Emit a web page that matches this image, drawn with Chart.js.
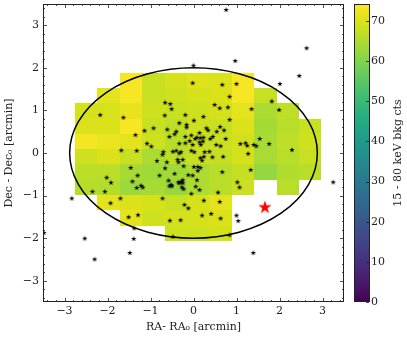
<!DOCTYPE html>
<html>
<head>
<meta charset="utf-8">
<script src="https://cdn.jsdelivr.net/npm/chart.js@4.4.1/dist/chart.umd.min.js"></script>
<style>
    html, body { margin: 0; padding: 0; background: #fff; }
    #chart { display: block; }
</style>
</head>
<body>
<canvas id="chart" width="407" height="340"></canvas>
<script>
;(function () {
    'use strict';

    // background map, bin centres in arcmin (rows top -> bottom), null = no coverage
    var binRA  = [-2.497, -1.976, -1.455, -0.934, -0.413, 0.109, 0.630, 1.151, 1.672, 2.193, 2.714];
    var binDec = [1.71, 1.35, 0.99, 0.63, 0.27, -0.09, -0.45, -0.81, -1.17, -1.53, -1.89];
    var bkgCounts = [
        [null, null, 73.5, 67.7, 69.2, 70.5, 69.8, 73.5, null, null, null],
        [null, 71.0, 73.5, 67.7, 68.5, 69.2, 70.0, 73.5, 67.7, null, null],
        [69.2, 69.5, 71.5, 68.5, 67.7, 68.5, 69.2, 71.0, 64.8, 66.8, null],
        [70.0, 70.0, 73.5, 67.7, 66.8, 68.5, 67.7, 70.0, 64.0, 66.2, 67.7],
        [73.0, 72.0, 71.0, 68.5, 66.2, 67.7, 68.0, 69.0, 64.4, 66.8, 68.5],
        [68.5, 70.0, 67.7, 64.5, 66.5, 67.7, 67.5, 69.2, 64.4, 66.2, 67.7],
        [66.5, 66.5, 64.2, 63.5, 63.6, 64.8, 66.2, 67.5, 62.2, 65.3, 66.2],
        [66.0, 65.5, 62.9, 64.2, 62.5, 64.8, 66.2, 68.0, null, 66.2, null],
        [null, 71.0, 70.0, 69.2, 67.7, 69.2, 71.0, null, null, null, null],
        [null, null, 71.0, 68.5, 69.2, 69.2, 70.0, null, null, null, null],
        [null, null, null, null, 68.5, 68.5, 69.2, null, null, null, null]
    ];

    // cluster members (offsets from centre, arcmin)
    var memberRA = [
        -2.17, -1.63, -1.35, -1.14, -0.93, -1.08, -0.98, -1.68, -1.32, -0.02,
         0.67,  1.00,  0.84, -0.66, -0.54, -0.51,  0.49,  0.61,  0.80, -0.67,
        -0.19,  0.23,  0.01, -0.33, -0.16, -0.16,  0.84, -0.61, -0.40,  0.30,
         0.34,  0.14,  0.62,  0.71,  0.54,  0.75, -0.56, -0.44, -0.05,  0.45,
         0.08,  0.16,  0.23,  0.04,  0.39, -0.09,  0.14,  0.22, -0.33, -0.19,
        -0.02,  0.17,  0.53,  0.63,  1.09,  1.21,  1.25, -0.40, -0.29, -0.05,
         0.02,  0.26,  0.37, -0.70,  2.46,  2.01,  1.82,  1.99,  1.35,  1.54,
         1.40,  1.46,  1.76,  2.29,  0.76,  2.63,  0.97,  0.00,  1.27,  1.33,
        -0.72, -0.62, -0.85, -1.46, -0.35, -0.25, -0.23, -0.48, -0.33,  0.01,
         0.10, -1.30, -2.02, -1.92, -1.42, -1.22, -1.18, -1.32, -2.35, -2.06,
        -2.83, -1.70, -1.93, -1.29, -1.51, -1.38, -2.53, -1.39, -3.48, -2.30,
        -1.48, -0.79, -0.55, -0.30, -0.48, -0.72, -0.05, -0.12, -0.27, -0.23,
        -0.33, -0.52, -0.56, -0.44, -0.25, -0.29, -0.66, -0.12, -0.02, -0.37,
         0.16,  0.24,  0.20,  0.44,  0.69,  0.16,  0.10,  0.67, -0.58, -0.35,
        -0.25,  0.08, -0.50,  0.05,  0.14,  1.02,  1.07,  0.57,  0.24,  0.61,
        -0.21,  0.20,  0.41,  0.63,  1.00,  1.04,  0.84,  3.25,  1.39, -0.19
    ];
    var memberDec = [
         0.89,  0.83,  0.42,  0.52,  0.58,  0.22,  0.15,  0.06,  0.05,  1.64,
         1.60,  1.62,  1.32,  1.18,  1.15,  1.03,  1.13,  1.05,  1.07,  0.88,
         0.89,  0.85,  0.76,  0.70,  0.66,  0.60,  0.78,  0.55,  0.50,  0.58,
         0.53,  0.47,  0.61,  0.53,  0.50,  0.33,  0.38,  0.44,  0.41,  0.38,
         0.36,  0.35,  0.36,  0.33,  0.33,  0.28,  0.25,  0.27,  0.22,  0.23,
         0.19,  0.19,  0.19,  0.16,  0.21,  0.23,  0.17,  0.05,  0.02,  0.05,
         0.02,  0.02,  0.03,  0.02,  1.81,  1.62,  1.21,  1.01,  1.03,  0.33,
         0.19,  0.16,  0.21,  0.07,  3.36,  2.46,  2.16,  2.05, -0.02, -0.40,
        -0.04, -0.22, -0.19, -0.35, -0.22, -0.16, -0.31,  0.03, -0.01, -0.33,
        -0.33, -0.53, -0.58, -0.70, -0.67, -0.77, -0.81, -0.82, -0.91, -0.91,
        -1.07, -1.07, -1.18, -1.46, -1.51, -1.77, -2.01, -2.02, -1.88, -2.50,
        -2.35, -0.53, -1.59, -1.58, -1.97, -1.07, -0.96, -1.30, -0.81, -0.85,
        -0.71, -0.75, -0.78, -0.49, -0.64, -0.68, -0.36, -0.52, -0.53, -0.16,
        -0.12, -0.09, -0.18, -0.10, -0.09, -0.35, -0.42, -0.45, -0.65, -0.69,
        -0.71, -0.64, -0.78, -0.79, -0.87, -0.69, -0.81, -0.93, -1.12, -1.15,
        -1.22, -1.47, -1.43, -1.54, -1.47, -1.60, -1.93, -0.69, -2.35,  0.38
    ];

    // the off-centre source (red star)
    var sourceRA  = [1.66];
    var sourceDec = [-1.28];

    // field ellipse semi-axes (arcmin), centred on the origin
    var fovRA  = 2.88;
    var fovDec = 2.00;

    var axisTicks = [-3, -2, -1, 0, 1, 2, 3];
    var cbarTicks = [0, 10, 20, 30, 40, 50, 60, 70];
    var cbarMax   = 74.2;

    var binW = 0.521, binH = 0.36;
    var FONT = "'DejaVu Serif', 'Liberation Serif', serif";
    var INK = '#222';

    var VIRIDIS = [
        '#440154', '#48186a', '#472d7b', '#424086', '#3b528b', '#33638d',
        '#2c728e', '#26828e', '#21918c', '#1fa088', '#28ae80', '#3fbc73',
        '#5ec962', '#84d44b', '#addc30', '#d8e219', '#fde725'
    ];

    function hexRgb (h) {
        return [parseInt(h.substr(1, 2), 16), parseInt(h.substr(3, 2), 16), parseInt(h.substr(5, 2), 16)];
    }

    function viridis (t) {
        t = Math.max(0, Math.min(1, t));
        var f = t * (VIRIDIS.length - 1);
        var i = Math.min(Math.floor(f), VIRIDIS.length - 2);
        var k = f - i;
        var a = hexRgb(VIRIDIS[i]), b = hexRgb(VIRIDIS[i + 1]);
        return 'rgb(' + [0, 1, 2].map(function (c) {
            return Math.round(a[c] + (b[c] - a[c]) * k);
        }).join(',') + ')';
    }

    function starCanvas (r, color) {
        var size = Math.ceil(r * 2 + 2);
        var c = document.createElement('canvas');
        c.width = size; c.height = size;
        var g = c.getContext('2d');
        g.translate(size / 2, size / 2);
        g.beginPath();
        for (var i = 0; i < 10; i++) {
            var rad = (i % 2 === 0) ? r : r * 0.382;
            var ang = -Math.PI / 2 + i * Math.PI / 5;
            g.lineTo(rad * Math.cos(ang), rad * Math.sin(ang));
        }
        g.closePath();
        g.fillStyle = color;
        g.fill();
        return c;
    }

    function fmt (v) {
        return String(v).replace('-', '\u2212');
    }

    function setTicks (list) {
        return function (scale) {
            scale.ticks = list.map(function (v) { return { value: v }; });
        };
    }

    // fixed box sizes, and no extra room for the end labels
    function fixSize (w, h) {
        return function (s) {
            if (w) s.width = w;
            if (h) s.height = h;
            s.paddingTop = 0; s.paddingBottom = 0;
            s.paddingLeft = 0; s.paddingRight = 0;
        };
    }

    var mapPlugin = {
        id: 'bkgMap',
        beforeDatasetsDraw: function (chart) {
            var ctx = chart.ctx, xs = chart.scales.x, ys = chart.scales.y;
            ctx.save();
            bkgCounts.forEach(function (row, j) {
                row.forEach(function (v, i) {
                    if (v === null) return;
                    var x0 = Math.round(xs.getPixelForValue(binRA[i] - binW / 2));
                    var x1 = Math.round(xs.getPixelForValue(binRA[i] + binW / 2));
                    var y0 = Math.round(ys.getPixelForValue(binDec[j] + binH / 2));
                    var y1 = Math.round(ys.getPixelForValue(binDec[j] - binH / 2));
                    ctx.fillStyle = viridis(v / cbarMax);
                    ctx.fillRect(x0, y0, x1 - x0, y1 - y0);
                });
            });

            var cx = xs.getPixelForValue(0), cy = ys.getPixelForValue(0);
            var rx = xs.getPixelForValue(fovRA) - cx;
            var ry = cy - ys.getPixelForValue(fovDec);
            ctx.beginPath();
            ctx.ellipse(cx, cy, rx, ry, 0, 0, 2 * Math.PI);
            ctx.lineWidth = 1.5;
            ctx.strokeStyle = '#000';
            ctx.stroke();
            ctx.restore();
        },
        afterDraw: function (chart) {
            var ctx = chart.ctx, a = chart.chartArea;
            var xs = chart.scales.x, ys = chart.scales.y, cb = chart.scales.cb;
            ctx.save();
            ctx.strokeStyle = INK;

            // frame
            ctx.lineWidth = 1;
            ctx.strokeRect(Math.round(a.left) + 0.5, Math.round(a.top) + 0.5,
                Math.round(a.right - a.left) - 1, Math.round(a.bottom - a.top) - 1);

            // inward ticks on all four sides, minor every 0.2
            ctx.lineWidth = 0.8;
            ctx.beginPath();
            for (var n = -17; n <= 17; n++) {
                var v = n / 5;
                var len = (n % 5 === 0) ? 4 : 2;
                var px = Math.round(xs.getPixelForValue(v)) + 0.5;
                var py = Math.round(ys.getPixelForValue(v)) + 0.5;
                ctx.moveTo(px, a.bottom); ctx.lineTo(px, a.bottom - len);
                ctx.moveTo(px, a.top); ctx.lineTo(px, a.top + len);
                ctx.moveTo(a.left, py); ctx.lineTo(a.left + len, py);
                ctx.moveTo(a.right, py); ctx.lineTo(a.right - len, py);
            }
            ctx.stroke();

            // colour bar
            var bx = Math.round(cb.left) + 10, bw = 15;
            var top = cb.getPixelForValue(cbarMax), bot = cb.getPixelForValue(0);
            var grad = ctx.createLinearGradient(0, bot, 0, top);
            VIRIDIS.forEach(function (c, i) { grad.addColorStop(i / (VIRIDIS.length - 1), c); });
            ctx.fillStyle = grad;
            ctx.fillRect(bx, top, bw, bot - top);
            ctx.lineWidth = 1;
            ctx.strokeRect(bx + 0.5, Math.round(top) + 0.5, bw, Math.round(bot - top) - 1);
            ctx.lineWidth = 0.8;
            ctx.beginPath();
            cbarTicks.forEach(function (t) {
                var y = Math.round(cb.getPixelForValue(t)) + 0.5;
                ctx.moveTo(bx + bw, y); ctx.lineTo(bx + bw - 3, y);
            });
            ctx.stroke();

            // colour bar label, reads bottom to top
            ctx.fillStyle = INK;
            ctx.font = '11px ' + FONT;
            ctx.textAlign = 'center';
            ctx.textBaseline = 'middle';
            ctx.translate(398, (top + bot) / 2);
            ctx.rotate(-Math.PI / 2);
            ctx.fillText('15 - 80 keV bkg cts', 0, 0);
            ctx.restore();
        }
    };

    var members = memberRA.map(function (x, i) { return { x: x, y: memberDec[i] }; });
    var source = sourceRA.map(function (x, i) { return { x: x, y: sourceDec[i] }; });

    var tickFont = { family: FONT, size: 11 };

    new Chart(document.getElementById('chart'), {
        type: 'scatter',
        data: {
            datasets: [{
                label: 'members',
                data: members,
                xAxisID: 'x',
                yAxisID: 'y',
                pointStyle: starCanvas(2.9, '#000'),
                pointRadius: 3,
                pointHoverRadius: 3
            }, {
                label: 'source',
                data: source,
                xAxisID: 'x',
                yAxisID: 'y',
                pointStyle: starCanvas(7, '#ff0000'),
                pointRadius: 7,
                pointHoverRadius: 7
            }]
        },
        options: {
            responsive: false,
            animation: false,
            events: [],
            layout: { autoPadding: false, padding: { top: 4, left: 0, right: 0, bottom: 0 } },
            plugins: {
                legend: { display: false },
                tooltip: { enabled: false }
            },
            scales: {
                x: {
                    type: 'linear',
                    position: 'bottom',
                    min: -3.5,
                    max: 3.5,
                    afterBuildTicks: setTicks(axisTicks),
                    afterFit: fixSize(0, 38),
                    grid: { display: false, drawTicks: false },
                    border: { display: false },
                    ticks: { font: tickFont, color: INK, padding: 3, maxRotation: 0, callback: fmt },
                    title: {
                        display: true,
                        text: 'RA- RA\u2080 [arcmin]',
                        font: tickFont,
                        color: INK,
                        padding: { top: 0, bottom: 6 }
                    }
                },
                y: {
                    type: 'linear',
                    position: 'left',
                    min: -3.5,
                    max: 3.5,
                    afterBuildTicks: setTicks(axisTicks),
                    afterFit: fixSize(43, 0),
                    grid: { display: false, drawTicks: false },
                    border: { display: false },
                    ticks: { font: tickFont, color: INK, padding: 4, callback: fmt },
                    title: {
                        display: true,
                        text: 'Dec - Dec\u2080 [arcmin]',
                        font: tickFont,
                        color: INK,
                        padding: { top: 3, bottom: 0 }
                    }
                },
                cb: {
                    type: 'linear',
                    position: 'right',
                    min: 0,
                    max: cbarMax,
                    afterBuildTicks: setTicks(cbarTicks),
                    afterFit: fixSize(63, 0),
                    grid: { display: false, drawTicks: false },
                    border: { display: false },
                    ticks: { font: tickFont, color: INK, padding: 27 }
                }
            }
        },
        plugins: [mapPlugin]
    });
})();
</script>
</body>
</html>
